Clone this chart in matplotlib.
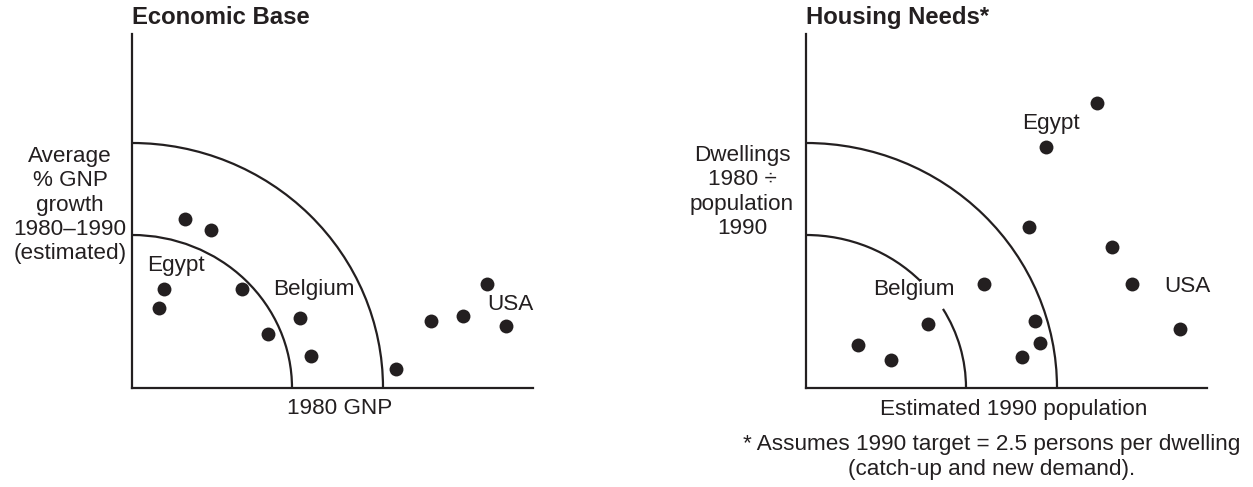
import matplotlib.pyplot as plt
from matplotlib.patches import Arc

plt.rcParams['font.family'] = ['Liberation Sans', 'DejaVu Sans']

INK = "#231f20"
FS = 16.2
TITLE_FS = 17.2

# dot positions, measured from each panel's origin (figure units)
econ_x = [53, 79, 32, 27, 110, 136, 168, 179, 264, 299, 331, 355, 374]
econ_y = [169, 158, 99, 80, 99, 54, 70, 32, 19, 67, 72, 104, 62]
econ_labels = ["Egypt", "Belgium", "USA"]
econ_label_x = [44, 182, 378]
econ_label_y = [123, 98, 83]

house_x = [291, 240, 223, 306, 326, 178, 229, 234, 216, 122, 52, 85, 374]
house_y = [285, 241, 161, 141, 104, 104, 67, 45, 31, 64, 43, 28, 59]
house_labels = ["Egypt", "Belgium", "USA"]
house_label_x = [245, 108, 381]
house_label_y = [265, 99, 101]

# quarter-circle thresholds (x radius, y radius)
outer_r = (251, 245)
inner_r = (160, 153)
# the inner arc on the housing panel is broken around the Belgium label
house_inner_gap = (30, 43)

X_MAX = 401
Y_MAX = 354


def setup_axes(ax):
    ax.set_xlim(0, X_MAX)
    ax.set_ylim(0, Y_MAX)
    for side in ["top", "right"]:
        ax.spines[side].set_visible(False)
    for side in ["left", "bottom"]:
        ax.spines[side].set_linewidth(1.6)
        ax.spines[side].set_color(INK)
    ax.set_xticks([])
    ax.set_yticks([])
    ax.patch.set_alpha(0)


def draw_arc(ax, r, t1=0, t2=90):
    ax.add_patch(Arc((0, 0), 2 * r[0], 2 * r[1], theta1=t1, theta2=t2,
                     color=INK, lw=1.6))


def draw_panel(ax, xs, ys, labels, lx, ly, title, gap=None):
    setup_axes(ax)
    draw_arc(ax, outer_r)
    if gap is None:
        draw_arc(ax, inner_r)
    else:
        draw_arc(ax, inner_r, 0, gap[0])
        draw_arc(ax, inner_r, gap[1], 90)
    ax.plot(xs, ys, "o", color=INK, markersize=10, markeredgewidth=0)
    for lab, x, y in zip(labels, lx, ly):
        ax.text(x, y, lab, ha="center", va="center", fontsize=FS, color=INK)
    ax.text(0, 1.015, title, transform=ax.transAxes, ha="left", va="bottom",
            fontsize=TITLE_FS, fontweight="bold", color=INK)


W, H = 1253, 487
fig = plt.figure(figsize=(W / 100, H / 100), dpi=100)

ax1 = fig.add_axes([132 / W, (H - 388) / H, 401 / W, 354 / H])
ax2 = fig.add_axes([806 / W, (H - 388) / H, 401 / W, 354 / H])

draw_panel(ax1, econ_x, econ_y, econ_labels, econ_label_x, econ_label_y, "Economic Base")
draw_panel(ax2, house_x, house_y, house_labels, house_label_x, house_label_y,
           "Housing Needs*", gap=house_inner_gap)

# axis captions
fig.text(70 / W, 1 - 205 / H, "Average\n% GNP\ngrowth\n1980\u20131990\n(estimated)",
         ha="center", va="center", fontsize=FS, color=INK, linespacing=1.2)
fig.text(742 / W, 1 - 192 / H, "Dwellings\n1980 \u00f7\npopulation\n1990",
         ha="center", va="center", fontsize=FS, color=INK, linespacing=1.2)
fig.text(340 / W, 1 - 409 / H, "1980 GNP", ha="center", va="center",
         fontsize=FS, color=INK)
fig.text(1014 / W, 1 - 410 / H, "Estimated 1990 population", ha="center", va="center",
         fontsize=FS, color=INK)
fig.text(992 / W, 1 - 457 / H,
         "* Assumes 1990 target = 2.5 persons per dwelling\n(catch-up and new demand).",
         ha="center", va="center", fontsize=FS, color=INK, linespacing=1.2)

fig.savefig("out.png", dpi=100)
